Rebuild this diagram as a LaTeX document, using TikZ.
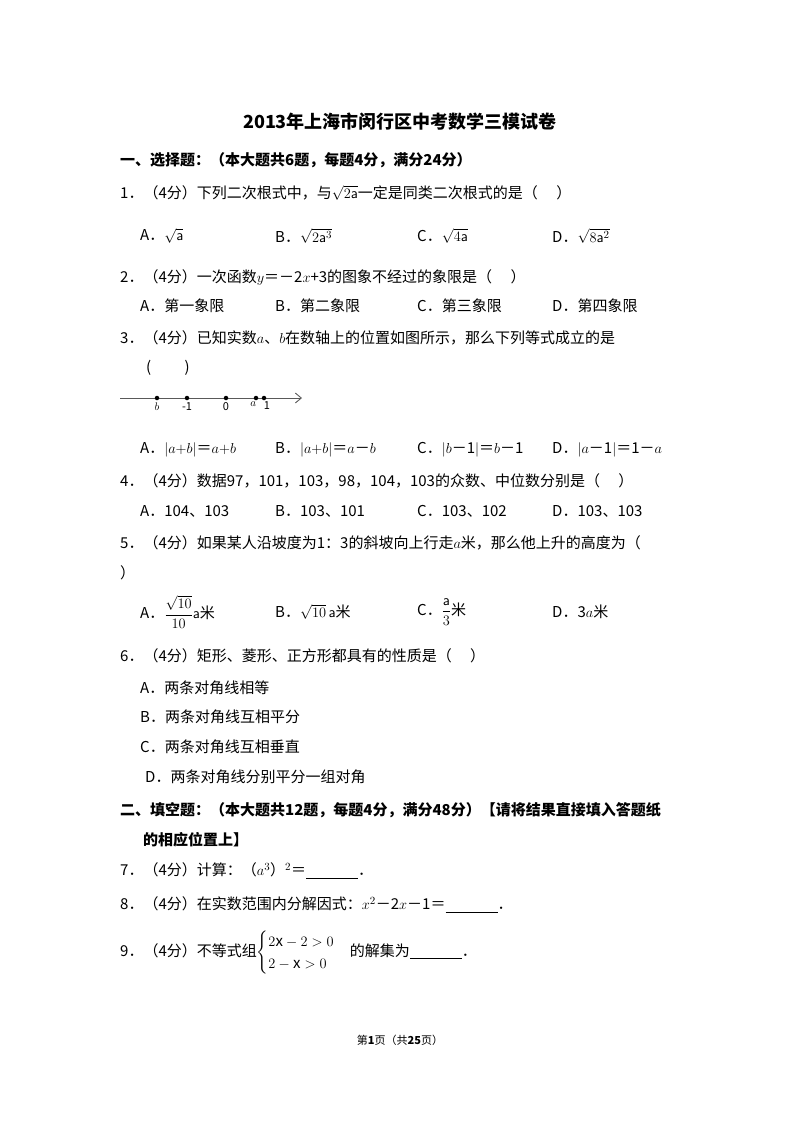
\documentclass[tikz,border=0pt]{standalone}
\usepackage{fontspec}
\usepackage{amsmath}
\setmainfont{Noto Sans CJK SC}
\usetikzlibrary{positioning,arrows.meta}

\tikzset{
  txt/.style={anchor=west, inner sep=0pt, font=\fontsize{15}{18}\selectfont},
  head/.style={txt, font=\fontsize{15}{18}\selectfont\bfseries},
  dot/.style={circle, fill=black, inner sep=0pt, minimum size=4.5pt},
  tick/.style={inner sep=1pt, font=\fontsize{11}{12}\selectfont}
}
\newcommand{\blank}{\underline{\hspace{52pt}}}

\begin{document}
\begin{tikzpicture}[x=1pt, y=1pt]
\useasboundingbox (0,0) rectangle (800,-1132);

% Title and section heading
\node[font=\fontsize{18}{20}\selectfont\bfseries, inner sep=0pt] (title) at (400,-122) {2013年上海市闵行区中考数学三模试卷};
\node[head] (sec1) at (120,-160) {一、选择题：（本大题共6题，每题4分，满分24分）};

% Question 1
\node[txt] (q1) at (120,-193) {1．（4分）下列二次根式中，与$\sqrt{2\mathsf{a}}$一定是同类二次根式的是（\quad\ ）};
\node[txt] (q1a) at (140,-236) {A．$\sqrt{\mathsf{a}}$};
\node[txt] (q1b) at (275,-236) {B．$\sqrt{2\mathsf{a}^3}$};
\node[txt] (q1c) at (417,-236) {C．$\sqrt{4\mathsf{a}}$};
\node[txt] (q1d) at (552,-236) {D．$\sqrt{8\mathsf{a}^2}$};

% Question 2
\node[txt] (q2) at (120,-277) {2．（4分）一次函数$y$＝－2$x$+3的图象不经过的象限是（\quad\ ）};
\node[txt] (q2a) at (140,-306) {A．第一象限};
\node[txt] (q2b) at (275,-306) {B．第二象限};
\node[txt] (q2c) at (417,-306) {C．第三象限};
\node[txt] (q2d) at (552,-306) {D．第四象限};

% Question 3 with number line
\node[txt] (q3) at (120,-338) {3．（4分）已知实数$a$、$b$在数轴上的位置如图所示，那么下列等式成立的是};
\node[txt] (q3p) at (146,-368) {(\qquad\ )};
\coordinate (axL) at (120,-398);
\coordinate (axR) at (302,-398);
\draw[line width=0.9pt, gray!70!black, -{Straight Barb[length=6pt,width=10pt]}] (axL) -- (axR);
\foreach \n/\x in {pb/157, pm/187, pz/226, pa/256, po/264} {
  \node[dot] (\n) at (\x,-398) {};
}
\node[tick, below=1pt of pb] (lb) {$b$};
\node[tick, below=1pt of pm] (lm) {-1};
\node[tick, below=1pt of pz] (lz) {0};
\node[tick, below left=1pt and -3pt of pa] (la) {$a$};
\node[tick, below right=1pt and -3pt of po] (lo) {1};
\node[txt] (q3a) at (140,-450) {A．$|a{+}b|$＝$a{+}b$};
\node[txt] (q3b) at (275,-450) {B．$|a{+}b|$＝$a$－$b$};
\node[txt] (q3c) at (417,-450) {C．$|b$－1$|$＝$b$－1};
\node[txt] (q3d) at (552,-450) {D．$|a$－1$|$＝1－$a$};

% Question 4
\node[txt] (q4) at (120,-481) {4．（4分）数据97，101，103，98，104，103的众数、中位数分别是（\quad\ ）};
\node[txt] (q4a) at (140,-511) {A．104、103};
\node[txt] (q4b) at (275,-511) {B．103、101};
\node[txt] (q4c) at (417,-511) {C．103、102};
\node[txt] (q4d) at (552,-511) {D．103、103};

% Question 5
\node[txt] (q5) at (120,-543) {5．（4分）如果某人沿坡度为1：3的斜坡向上行走$a$米，那么他上升的高度为（};
\node[txt] (q5p) at (120,-573) {）};
\node[txt] (q5a) at (140,-612) {A．$\dfrac{\sqrt{10}}{10}\mathsf{a}$米};
\node[txt] (q5b) at (275,-612) {B．$\sqrt{10}\,\mathsf{a}$米};
\node[txt] (q5c) at (417,-612) {C．$\dfrac{\mathsf{a}}{3}$米};
\node[txt] (q5d) at (552,-612) {D．3$a$米};

% Question 6
\node[txt] (q6) at (120,-656) {6．（4分）矩形、菱形、正方形都具有的性质是（\quad\ ）};
\node[txt] (q6a) at (140,-688) {A．两条对角线相等};
\node[txt] (q6b) at (140,-717) {B．两条对角线互相平分};
\node[txt] (q6c) at (140,-747) {C．两条对角线互相垂直};
\node[txt] (q6d) at (145,-777) {D．两条对角线分别平分一组对角};

% Section two
\node[head] (sec2) at (120,-810) {二、填空题：（本大题共12题，每题4分，满分48分）【请将结果直接填入答题纸};
\node[head] (sec2b) at (143,-840) {的相应位置上】};
\node[txt] (q7) at (120,-871) {7．（4分）计算：（$a^3$）$^2$＝\blank．};
\node[txt] (q8) at (120,-905) {8．（4分）在实数范围内分解因式：$x^2$－2$x$－1＝\blank．};
\node[txt] (q9) at (120,-953) {9．（4分）不等式组$\begin{cases}2\mathrm{x}-2>0\\2-\mathrm{x}>0\end{cases}$的解集为\blank．};

% Footer
\node[inner sep=0pt, font=\fontsize{11}{12}\selectfont] (foot) at (400,-1040) {第\textbf{1}页（共\textbf{25}页）};
\end{tikzpicture}
\end{document}
